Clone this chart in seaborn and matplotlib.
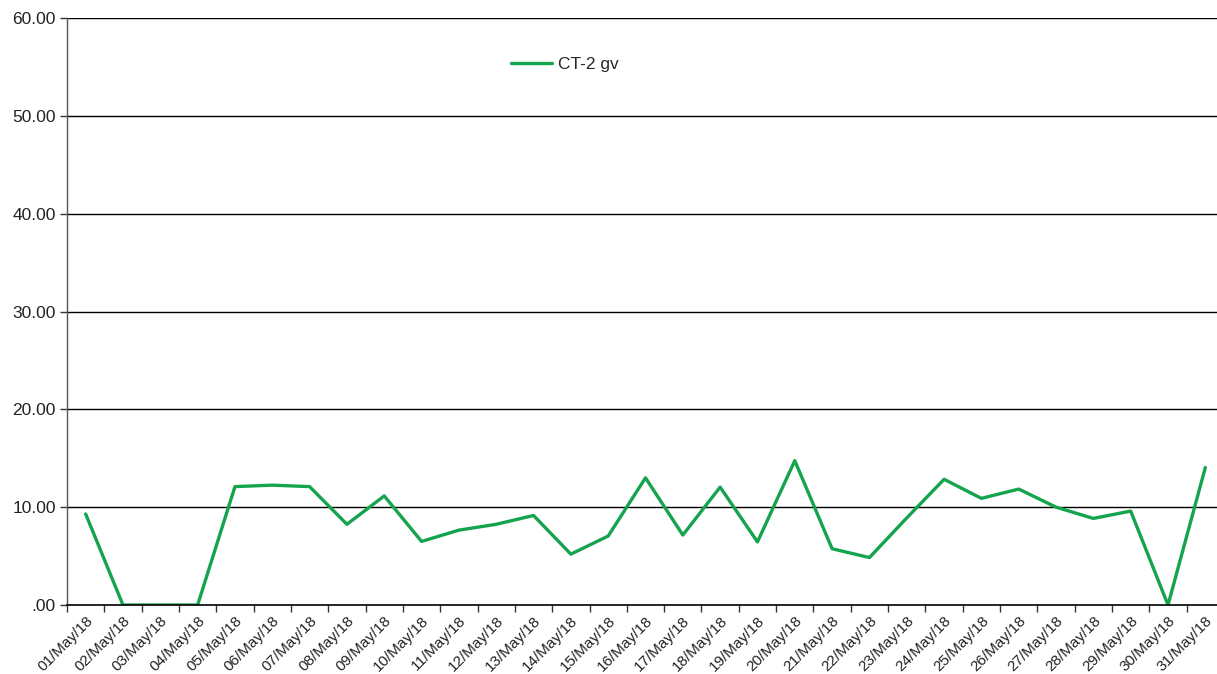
import matplotlib
matplotlib.use("Agg")
import matplotlib.pyplot as plt
import seaborn as sns
import pandas as pd
import numpy as np

# --- chart data ---
days = [f"{d:02d}/May/18" for d in range(1, 32)]
ct2_gv = [9.3, 0.0, 0.0, 0.0, 12.1, 12.25, 12.1, 8.25, 11.15, 6.5,
          7.65, 8.25, 9.15, 5.2, 7.05, 13.0, 7.15, 12.05, 6.45, 14.75,
          5.75, 4.85, 8.9, 12.85, 10.9, 11.85, 10.0, 8.85, 9.6, 0.0, 14.05]
y_ticks = [0, 10, 20, 30, 40, 50, 60]
y_labels = [".00", "10.00", "20.00", "30.00", "40.00", "50.00", "60.00"]

df = pd.DataFrame({"day": days, "CT-2 gv": ct2_gv})

sns.set_style("white")
plt.rcParams['font.family'] = ['Liberation Sans', 'DejaVu Sans']

fig = plt.figure(figsize=(12.17, 6.74), dpi=100)
ax = fig.add_axes([67 / 1217, 1 - 605 / 674, 1157 / 1217, 587 / 674])

sns.lineplot(data=df, x="day", y="CT-2 gv", ax=ax, color="#15a44e",
             linewidth=2.4, label="CT-2 gv", sort=False)

n = len(days)
ax.set_xlim(-0.5, n - 0.5)
ax.set_ylim(0, 60)

# boundaries get tick marks, centres get labels
ax.set_xticks(np.arange(n + 1) - 0.5)
ax.set_xticklabels([])
ax.set_xticks(np.arange(n), minor=True)
ax.set_xticklabels(days, minor=True, rotation=45, ha="right",
                   rotation_mode="anchor", fontsize=11, color="#222222")
ax.tick_params(axis="x", which="major", length=5, width=1, color="#333333",
               direction="out", bottom=True)
ax.tick_params(axis="x", which="minor", length=0, pad=6)

ax.set_yticks(y_ticks)
ax.set_yticklabels(y_labels, fontsize=12.5, color="#222222")
ax.tick_params(axis="y", length=5, width=1, color="#333333", left=True, pad=3)

for v in y_ticks[1:]:
    ax.axhline(v, color="black", linewidth=1, zorder=0)

for side in ["top", "right"]:
    ax.spines[side].set_visible(False)
ax.spines["left"].set_color("#555555")
ax.spines["bottom"].set_color("black")
ax.spines["left"].set_linewidth(1)
ax.spines["bottom"].set_linewidth(1.2)

ax.set_xlabel("")
ax.set_ylabel("")

ax.legend(loc="upper left", bbox_to_anchor=(0.37, 0.96), frameon=False,
          fontsize=12.5, handlelength=2.4, handletextpad=0.3)

fig.savefig("out.png", dpi=100)
